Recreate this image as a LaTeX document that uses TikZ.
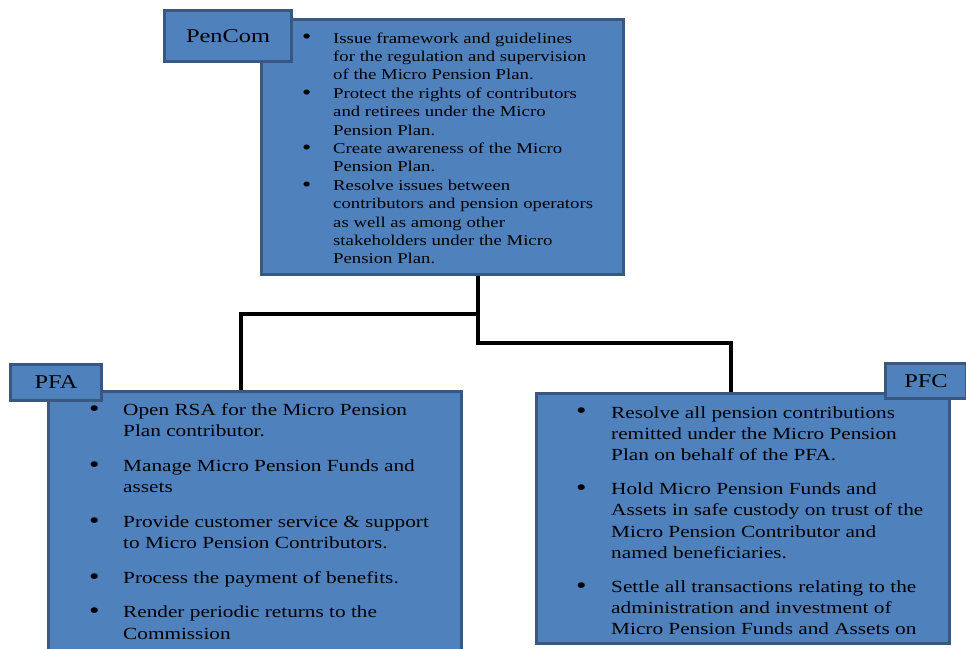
\documentclass[tikz,border=0pt]{standalone}
\usepackage{fontspec}
\setmainfont{Liberation Serif}[FakeStretch=1.25]
\usetikzlibrary{positioning}
\definecolor{boxfill}{RGB}{79,129,189}
\definecolor{boxline}{RGB}{56,88,130}
\newcommand{\dutymark}{\raisebox{-0.12ex}{\scalebox{1.4}{\textbullet}}}
\tikzset{
  mainbox/.style={draw=boxline, line width=3pt, fill=boxfill, anchor=north west, inner sep=0pt},
  tagbox/.style={draw=boxline, line width=3pt, fill=boxfill, anchor=north west, inner sep=0pt,
    font=\fontsize{19.5}{23}\selectfont},
  duties/.style={anchor=north west, inner sep=0pt, align=left},
  link/.style={line width=4pt, black},
}
\begin{document}
\begin{tikzpicture}[x=1pt,y=-1pt]
\clip (0,0) rectangle (966,648);

% PenCom
\node[mainbox, minimum width=362, minimum height=255] (pencombox) at (260,18) {};
\node[duties, font=\fontsize{15}{18.4}\selectfont] (pencomtext) at ([shift={(42,12)}]pencombox.north west) {%
\begin{tabular}{@{}p{31pt}@{}l@{}}
\dutymark & Issue framework and guidelines\\
 & for the regulation and supervision\\
 & of the Micro Pension Plan.\\
\dutymark & Protect the rights of contributors\\
 & and retirees under the Micro\\
 & Pension Plan.\\
\dutymark & Create awareness of the Micro\\
 & Pension Plan.\\
\dutymark & Resolve issues between\\
 & contributors and pension operators\\
 & as well as among other\\
 & stakeholders under the Micro\\
 & Pension Plan.\\
\end{tabular}};
\node[tagbox, minimum width=127, minimum height=51] (pencomtag) at (163,9) {PenCom};

% PFA
\node[mainbox, minimum width=413, minimum height=270] (pfabox) at (47,390) {};
\node[duties, font=\fontsize{17}{21.5}\selectfont] (pfatext) at ([shift={(42,10)}]pfabox.north west) {%
\begin{tabular}{@{}p{34pt}@{}l@{}}
\dutymark & Open RSA for the Micro Pension\\
 & Plan contributor.\\[13pt]
\dutymark & Manage Micro Pension Funds and\\
 & assets\\[13pt]
\dutymark & Provide customer service \& support\\
 & to Micro Pension Contributors.\\[13pt]
\dutymark & Process the payment of benefits.\\[13pt]
\dutymark & Render periodic returns to the\\
 & Commission\\
\end{tabular}};
\node[tagbox, minimum width=91, minimum height=36] (pfatag) at (9,363) {PFA};

% PFC
\node[mainbox, minimum width=413, minimum height=250] (pfcbox) at (535,392) {};
\node[duties, font=\fontsize{17}{21.2}\selectfont] (pfctext) at ([shift={(41,11)}]pfcbox.north west) {%
\begin{tabular}{@{}p{35pt}@{}l@{}}
\dutymark & Resolve all pension contributions\\
 & remitted under the Micro Pension\\
 & Plan on behalf of the PFA.\\[13pt]
\dutymark & Hold Micro Pension Funds and\\
 & Assets in safe custody on trust of the\\
 & Micro Pension Contributor and\\
 & named beneficiaries.\\[13pt]
\dutymark & Settle all transactions relating to the\\
 & administration and investment of\\
 & Micro Pension Funds and Assets on\\
\end{tabular}};
\node[tagbox, minimum width=81, minimum height=35] (pfctag) at (884,362) {PFC};

% connectors
\coordinate (stem) at ([xshift=218]pencombox.south west);
\coordinate (pfatop) at ([xshift=194]pfabox.north west);
\coordinate (pfctop) at ([xshift=196]pfcbox.north west);
\draw[link] (stem) -- ++(0,38) -| (pfatop);
\draw[link] (stem) -- ++(0,67) -| (pfctop);
\end{tikzpicture}
\end{document}
